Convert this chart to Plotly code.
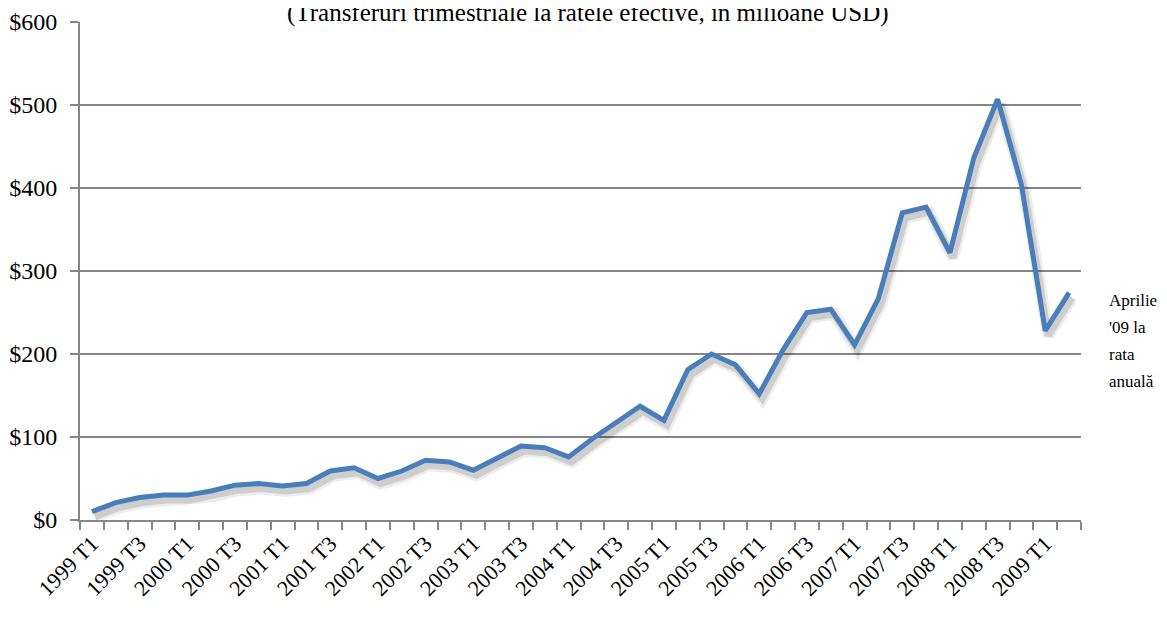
import plotly.graph_objects as go

# quarterly remittances, million USD
quarters = [f'{y} T{q}' for y in range(1999, 2010) for q in range(1, 5)][:42]
values = [10, 21, 27, 30, 30, 35, 42, 44, 41, 44,
          59, 63, 50, 59, 72, 70, 60, 75, 89, 87,
          76, 98, 118, 137, 120, 181, 200, 187, 152, 205,
          250, 254, 211, 267, 370, 377, 322, 436, 507, 404,
          228, 274]
y_ticks = [0, 100, 200, 300, 400, 500, 600]

title_text = '(Transferuri trimestriale la ratele efective, în milioane USD)'
note_lines = ['Aprilie', "'09 la", 'rata', 'anuală']

FONT = 'Liberation Serif'
GREY = '#868686'
BLUE = '#4a7ebb'

xs = list(range(len(quarters)))
n = len(quarters)

# page body has an 8px margin, so the figure is a bit smaller than the window
W, H = 1151, 614
ML, MR, MT, MB = 72, 78, 14, 102
plot_w, plot_h = W - ML - MR, H - MT - MB

# shadow offset (px) -> data units, drawn on a hidden axis pair
dx = 3 * n / plot_w
dy = 5 * 600 / plot_h

fig = go.Figure()
fig.add_trace(go.Scatter(x=xs, y=values, mode='lines', xaxis='x', yaxis='y',
                         line=dict(color='rgba(0,0,0,0.07)', width=12), hoverinfo='skip'))
fig.add_trace(go.Scatter(x=xs, y=values, mode='lines', xaxis='x', yaxis='y',
                         line=dict(color='rgba(0,0,0,0.13)', width=7), hoverinfo='skip'))
fig.add_trace(go.Scatter(x=xs, y=values, mode='lines', xaxis='x2', yaxis='y2',
                         line=dict(color=BLUE, width=5)))

fig.update_layout(
    width=W, height=H,
    margin=dict(l=ML, r=MR, t=MT, b=MB, autoexpand=False),
    paper_bgcolor='white', plot_bgcolor='white',
    showlegend=False,
    font=dict(family=FONT, color='black'),
    xaxis=dict(range=[-0.5 - dx, n - 0.5 - dx], visible=False, fixedrange=True),
    yaxis=dict(range=[0 + dy, 600 + dy], visible=False, fixedrange=True),
    xaxis2=dict(overlaying='x', anchor='y2', range=[-0.5, n - 0.5],
                tickmode='array', tickvals=xs[::2], ticktext=quarters[::2],
                tickangle=-45, tickfont=dict(size=22, family=FONT),
                ticks='', showgrid=False, zeroline=False,
                showline=True, linecolor=GREY, linewidth=2,
                minor=dict(ticks='outside', tick0=-0.5, dtick=1, ticklen=8,
                           tickcolor=GREY, tickwidth=2, showgrid=False)),
    yaxis2=dict(overlaying='y', anchor='x2', range=[0, 600],
                tickmode='array', tickvals=y_ticks,
                ticktext=[f'${v}' for v in y_ticks],
                tickfont=dict(size=24, family=FONT),
                ticks='outside', ticklen=8, tickcolor=GREY, tickwidth=2,
                ticklabelstandoff=8,
                showgrid=True, gridcolor=GREY, gridwidth=2,
                zeroline=False, showline=True, linecolor=GREY, linewidth=2),
)

fig.add_annotation(text=title_text, xref='paper', yref='paper',
                   x=0.507, y=1.019, xanchor='center', yanchor='middle',
                   showarrow=False, font=dict(size=25, family=FONT))
for k, line in enumerate(note_lines):
    fig.add_annotation(text=line, xref='paper', yref='paper',
                       x=1.026, y=0.44 - k * 0.054, xanchor='left', yanchor='middle',
                       align='left', showarrow=False, font=dict(size=17, family=FONT))

fig.write_html('out.html')
